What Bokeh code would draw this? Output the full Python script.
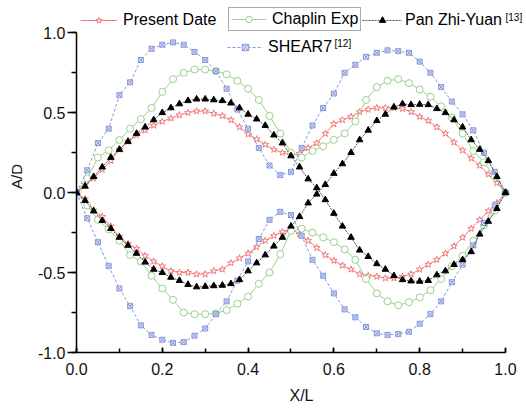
from bokeh.plotting import figure
from bokeh.models import (Range1d, SingleIntervalTicker, Legend, LegendItem, Label,
                          NumeralTickFormatter)
from bokeh.embed import file_html
from bokeh.resources import INLINE

# ---------------- data ----------------
x_fine = [0.00, 0.02, 0.04, 0.06, 0.08, 0.10, 0.12, 0.14, 0.16, 0.18,
          0.20, 0.22, 0.24, 0.26, 0.28, 0.30, 0.32, 0.34, 0.36, 0.38,
          0.40, 0.42, 0.44, 0.46, 0.48, 0.50, 0.52, 0.54, 0.56, 0.58,
          0.60, 0.62, 0.64, 0.66, 0.68, 0.70, 0.72, 0.74, 0.76, 0.78,
          0.80, 0.82, 0.84, 0.86, 0.88, 0.90, 0.92, 0.94, 0.96, 0.98, 1.00]
x_coarse = [0.000, 0.025, 0.050, 0.075, 0.100, 0.125, 0.150, 0.175, 0.200, 0.225,
            0.250, 0.275, 0.300, 0.325, 0.350, 0.375, 0.400, 0.425, 0.450, 0.475,
            0.500, 0.525, 0.550, 0.575, 0.600, 0.625, 0.650, 0.675, 0.700, 0.725,
            0.750, 0.775, 0.800, 0.825, 0.850, 0.875, 0.900, 0.925, 0.950, 0.975, 1.000]

present_upper = [0, 0.05, 0.09, 0.145, 0.20, 0.27, 0.32, 0.36, 0.39, 0.42, 0.445, 0.465, 0.485,
                 0.50, 0.51, 0.51, 0.495, 0.48, 0.455, 0.41, 0.365, 0.335, 0.30, 0.27, 0.25,
                 0.235, 0.245, 0.28, 0.31, 0.37, 0.43, 0.455, 0.475, 0.505, 0.52, 0.53, 0.53,
                 0.53, 0.525, 0.505, 0.475, 0.45, 0.41, 0.37, 0.315, 0.265, 0.215, 0.17, 0.115,
                 0.06, 0]
present_lower = [0, -0.04, -0.11, -0.15, -0.21, -0.275, -0.32, -0.35, -0.395, -0.43, -0.46, -0.49,
                 -0.50, -0.50, -0.51, -0.51, -0.49, -0.48, -0.44, -0.41, -0.38, -0.34, -0.30, -0.27,
                 -0.245, -0.225, -0.26, -0.30, -0.345, -0.39, -0.425, -0.455, -0.48, -0.51, -0.52,
                 -0.525, -0.535, -0.535, -0.525, -0.51, -0.48, -0.45, -0.42, -0.38, -0.335, -0.28,
                 -0.225, -0.17, -0.115, -0.065, 0]

pan_branch_a = [0, 0.04, 0.10, 0.16, 0.22, 0.27, 0.32, 0.37, 0.41, 0.455, 0.50, 0.53, 0.555, 0.575,
                0.585, 0.585, 0.58, 0.575, 0.56, 0.53, 0.49, 0.46, 0.42, 0.36, 0.31, 0.23, 0.16,
                0.085, 0.03, -0.045, -0.13, -0.21, -0.28, -0.36, -0.40, -0.445, -0.48, -0.52,
                -0.545, -0.553, -0.555, -0.55, -0.515, -0.49, -0.45, -0.42, -0.37, -0.26, -0.18,
                -0.10, 0]
pan_branch_b = [0, -0.05, -0.115, -0.175, -0.225, -0.28, -0.33, -0.38, -0.435, -0.48, -0.50, -0.53,
                -0.55, -0.575, -0.59, -0.587, -0.583, -0.58, -0.57, -0.545, -0.49, -0.44, -0.39,
                -0.335, -0.28, -0.21, -0.15, -0.065, -0.01, 0.05, 0.12, 0.18, 0.25, 0.33, 0.39,
                0.45, 0.49, 0.535, 0.555, 0.55, 0.552, 0.55, 0.525, 0.50, 0.455, 0.41, 0.33, 0.27,
                0.20, 0.10, 0]

chaplin_upper = [0, 0.09, 0.22, 0.265, 0.33, 0.40, 0.46, 0.53, 0.63, 0.71, 0.75, 0.77, 0.77, 0.76,
                 0.74, 0.70, 0.65, 0.58, 0.48, 0.37, 0.25, 0.22, 0.26, 0.29, 0.33, 0.37, 0.445,
                 0.58, 0.66, 0.70, 0.71, 0.685, 0.645, 0.60, 0.54, 0.47, 0.37, 0.26, 0.19, 0.10, 0]
chaplin_lower = [0, -0.08, -0.17, -0.23, -0.30, -0.39, -0.43, -0.52, -0.60, -0.67, -0.75, -0.76,
                 -0.76, -0.755, -0.735, -0.695, -0.65, -0.57, -0.50, -0.385, -0.24, -0.225, -0.25,
                 -0.28, -0.31, -0.355, -0.42, -0.54, -0.63, -0.68, -0.705, -0.685, -0.655, -0.61,
                 -0.54, -0.46, -0.395, -0.30, -0.205, -0.115, 0]

shear7_upper = [0, 0.14, 0.31, 0.40, 0.61, 0.69, 0.83, 0.90, 0.925, 0.94, 0.925, 0.88, 0.83, 0.76,
                0.65, 0.52, 0.40, 0.28, 0.17, 0.11, 0.13, 0.28, 0.42, 0.53, 0.62, 0.75, 0.80, 0.85,
                0.875, 0.89, 0.885, 0.875, 0.82, 0.75, 0.66, 0.57, 0.49, 0.39, 0.25, 0.13, 0]
shear7_lower = [0, -0.16, -0.31, -0.46, -0.60, -0.71, -0.83, -0.89, -0.92, -0.94, -0.935, -0.895,
                -0.85, -0.76, -0.68, -0.55, -0.43, -0.29, -0.17, -0.12, -0.14, -0.27, -0.42, -0.52,
                -0.63, -0.73, -0.78, -0.84, -0.88, -0.89, -0.885, -0.87, -0.82, -0.76, -0.68, -0.56,
                -0.45, -0.33, -0.19, -0.08, 0]

series_labels = ["Present Date", "Chaplin Exp", "Pan Zhi-Yuan", "SHEAR7"]
ref_marks = ["", "", "[13]", "[12]"]

# ---------------- figure ----------------
# The frame is extended above y=1 and right of x=1 so that the legend rows
# (which sit above the axes box in the reference) are not clipped; the axes
# themselves are bounded to [0, 1] and [-1, 1].
FONT = "Liberation Sans"
p = figure(width=526, height=409, output_backend="svg", toolbar_location=None,
           x_range=Range1d(0, 1.049), y_range=Range1d(-1, 1.202),
           min_border_left=76, min_border_right=0, min_border_top=0, min_border_bottom=57)
p.outline_line_color = None
p.xgrid.visible = False
p.ygrid.visible = False
p.background_fill_color = "white"
p.border_fill_color = "white"

RED = "#f27a7a"
GREEN = "#98d38a"
BLUE = "#8797dc"

# Present Date
r_red_l = p.line(x_fine, present_upper, line_color=RED, line_width=1)
r_red_m = p.scatter(x_fine, present_upper, marker="star", size=7, line_color=RED,
                    fill_color="white", line_width=1)
p.line(x_fine, present_lower, line_color=RED, line_width=1)
p.scatter(x_fine, present_lower, marker="star", size=7, line_color=RED,
          fill_color="white", line_width=1)

# Chaplin Exp
r_gr_l = p.line(x_coarse, chaplin_upper, line_color=GREEN, line_width=1)
r_gr_m = p.scatter(x_coarse, chaplin_upper, marker="circle", size=7, line_color=GREEN,
                   fill_color="white", line_width=1)
p.line(x_coarse, chaplin_lower, line_color=GREEN, line_width=1)
p.scatter(x_coarse, chaplin_lower, marker="circle", size=7, line_color=GREEN,
          fill_color="white", line_width=1)

# SHEAR7
r_bl_l = p.line(x_coarse, shear7_upper, line_color=BLUE, line_width=1, line_dash="3 2")
r_bl_m = p.scatter(x_coarse, shear7_upper, marker="square_x", size=5, line_color=BLUE,
                   fill_color="#dde2f7", line_width=1)
p.line(x_coarse, shear7_lower, line_color=BLUE, line_width=1, line_dash="3 2")
p.scatter(x_coarse, shear7_lower, marker="square_x", size=5, line_color=BLUE,
          fill_color="#dde2f7", line_width=1)

# Pan Zhi-Yuan
r_bk_l = p.line(x_fine, pan_branch_a, line_color="#555555", line_width=1, line_dash="2 1")
r_bk_m = p.scatter(x_fine, pan_branch_a, marker="triangle", size=6.5, line_color="black",
                   fill_color="black")
p.line(x_fine, pan_branch_b, line_color="#555555", line_width=1, line_dash="2 1")
p.scatter(x_fine, pan_branch_b, marker="triangle", size=6.5, line_color="black",
          fill_color="black")

# ---------------- axes ----------------
p.xaxis.ticker = SingleIntervalTicker(interval=0.2, num_minor_ticks=2)
p.yaxis.ticker = SingleIntervalTicker(interval=0.5, num_minor_ticks=2)
p.xaxis.formatter = NumeralTickFormatter(format="0.0")
p.yaxis.formatter = NumeralTickFormatter(format="0.0")
p.xaxis.bounds = (0, 1)
p.yaxis.bounds = (-1, 1)
for ax in (p.xaxis[0], p.yaxis[0]):
    ax.axis_line_color = "black"
    ax.axis_line_width = 1.5
    ax.major_tick_line_color = "black"
    ax.major_tick_line_width = 1.5
    ax.minor_tick_line_color = "black"
    ax.minor_tick_line_width = 1.5
    ax.major_label_text_font = FONT
    ax.major_label_text_font_size = "16px"
    ax.major_label_text_color = "#111111"
    ax.axis_label_text_font = FONT
    ax.axis_label_text_font_size = "16px"
    ax.axis_label_text_font_style = "normal"
    ax.axis_label_text_color = "#111111"

p.xaxis.axis_label = "X/L"
p.xaxis.major_tick_in = 5
p.xaxis.major_tick_out = 0
p.xaxis.minor_tick_in = 4
p.xaxis.minor_tick_out = 0
p.xaxis.major_label_standoff = 10
p.xaxis.axis_label_standoff = 9

p.yaxis.axis_label = "A/D"
p.yaxis.axis_label_text_font_size = "15px"
p.yaxis.major_tick_in = 0
p.yaxis.major_tick_out = 9
p.yaxis.minor_tick_in = 0
p.yaxis.minor_tick_out = 5
p.yaxis.major_label_standoff = 2
p.yaxis.axis_label_standoff = 10

# ---------------- legends ----------------
def add_legend(label, renderers, x, y, gw, standoff, border=None, pad=0):
    lg = Legend(items=[LegendItem(label=label, renderers=renderers)],
                location=(x, y), orientation="horizontal",
                glyph_width=gw, glyph_height=16, label_height=16, label_standoff=standoff,
                label_text_font=FONT, label_text_font_size="16px", label_text_color="black",
                padding=pad, margin=0, spacing=0, background_fill_alpha=0,
                border_line_color=border, border_line_width=1)
    p.add_layout(lg)

add_legend(series_labels[0], [r_red_l, r_red_m], 4, 323, 37, 6)
add_legend(series_labels[1], [r_gr_l, r_gr_m], 152, 321, 35, 6, border="#555555", pad=2)
add_legend(series_labels[2], [r_bk_l, r_bk_m], 286, 323, 40, 3)
add_legend(series_labels[3], [r_bl_l, r_bl_m], 151, 296, 36, 5)

p.add_layout(Label(x=429, y=335, x_units="screen", y_units="screen", text=ref_marks[2],
                   text_font=FONT, text_font_size="10px", text_baseline="middle",
                   text_color="black"))
p.add_layout(Label(x=258, y=309, x_units="screen", y_units="screen", text=ref_marks[3],
                   text_font=FONT, text_font_size="10px", text_baseline="middle",
                   text_color="black"))

open("out.html", "w").write(file_html(p, INLINE))
